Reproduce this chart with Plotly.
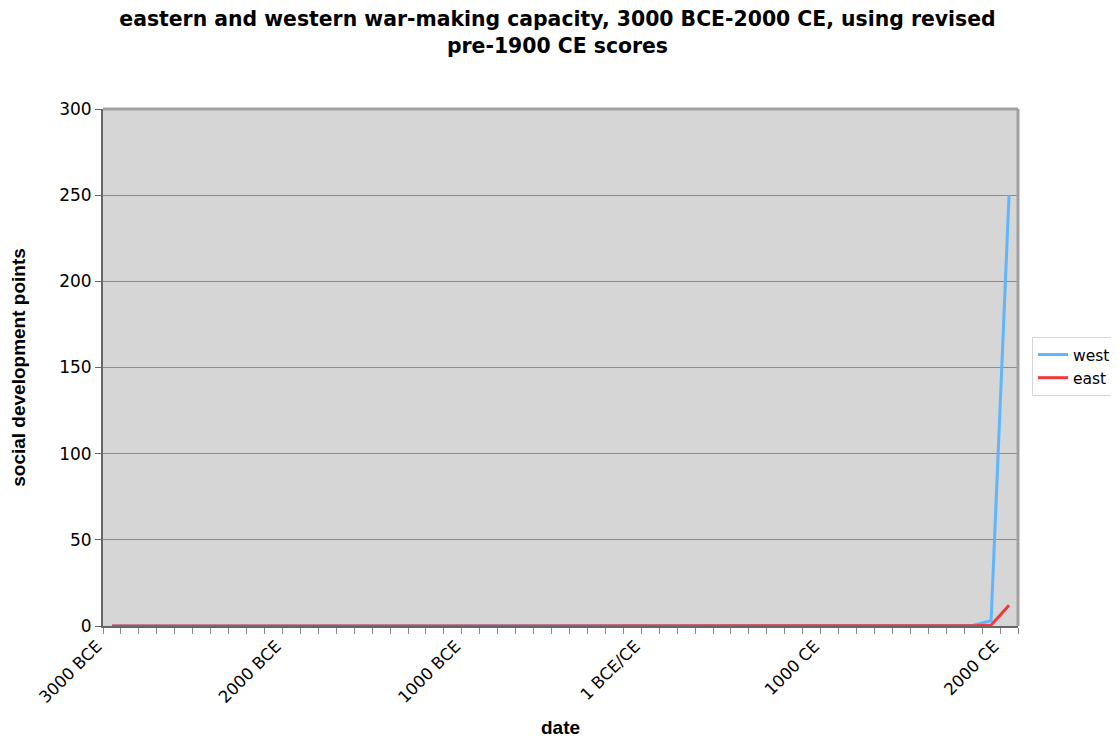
import plotly.graph_objects as go

# years: -3000 .. 2000 in steps of 100 (0 = 1 BCE/CE)
years = list(range(-3000, 2001, 100))
tick_years = [-3000, -2000, -1000, 0, 1000, 2000]
tick_labels = ["3000 BCE", "2000 BCE", "1000 BCE", "1 BCE/CE", "1000 CE", "2000 CE"]

# war-making capacity (points): effectively zero until 1800 CE
west = [0.01, 0.01, 0.01, 0.01, 0.01, 0.01, 0.01, 0.01, 0.01, 0.01,
        0.02, 0.02, 0.02, 0.02, 0.02, 0.02, 0.02, 0.02, 0.02, 0.03,
        0.03, 0.03, 0.04, 0.04, 0.05, 0.06, 0.07, 0.08, 0.09, 0.1,
        0.12, 0.12, 0.11, 0.1, 0.09, 0.08, 0.07, 0.07, 0.08, 0.09,
        0.09, 0.1, 0.1, 0.11, 0.12, 0.13, 0.14, 0.16, 0.5, 3.0,
        250.0]
east = [0.0, 0.0, 0.0, 0.0, 0.0, 0.0, 0.0, 0.0, 0.0, 0.0,
        0.0, 0.0, 0.0, 0.01, 0.01, 0.01, 0.01, 0.01, 0.01, 0.01,
        0.02, 0.02, 0.02, 0.02, 0.03, 0.03, 0.03, 0.04, 0.05, 0.07,
        0.08, 0.08, 0.08, 0.07, 0.07, 0.08, 0.09, 0.09, 0.1, 0.1,
        0.1, 0.11, 0.12, 0.12, 0.12, 0.12, 0.12, 0.12, 0.12, 0.5,
        12.0]

font_family = "DejaVu Sans, Verdana, sans-serif"
bold_family = "Liberation Sans, Arial, sans-serif"

fig = go.Figure()
fig.add_trace(go.Scatter(x=years, y=west, mode="lines", name="west",
                         line=dict(color="#5eb6ff", width=3)))
fig.add_trace(go.Scatter(x=years, y=east, mode="lines", name="east",
                         line=dict(color="#f2383a", width=3)))

step = years[1] - years[0]
boundaries = [years[0] - step / 2 + step * i for i in range(len(years) + 1)]
label_pos = [y - step / 2 for y in tick_years]

fig.update_layout(
    width=1111, height=734,
    paper_bgcolor="white",
    plot_bgcolor="#d6d6d6",
    margin=dict(l=95, r=101, t=101, b=116, autoexpand=False),
    title=dict(
        text="<b>eastern and western war-making capacity, 3000 BCE-2000 CE, using revised<br>pre-1900 CE scores</b>",
        x=549.5 / 1111, xref="container", xanchor="center",
        y=0.975, yref="container", yanchor="top",
        pad=dict(t=0, b=0),
        font=dict(family=font_family, size=20.4, color="black"),
    ),
    font=dict(family=font_family, color="black"),
    showlegend=True,
    legend=dict(
        x=1.0153, xanchor="left", y=0.502, yanchor="middle",
        bgcolor="white", bordercolor="#d4d4d4", borderwidth=1,
        font=dict(family=font_family, size=15.5, color="black"),
        tracegroupgap=0, itemwidth=30,
    ),
    xaxis=dict(
        range=[boundaries[0], boundaries[-1]],
        automargin=False,
        tickmode="array", tickvals=label_pos, ticktext=tick_labels,
        tickangle=-45, ticks="",
        ticklabelshift=-6, ticklabelstandoff=2,
        tickfont=dict(family=font_family, size=16.5, color="black"),
        showgrid=False, zeroline=False,
        showline=True, linecolor="#666666", linewidth=2,
        minor=dict(tickmode="array", tickvals=boundaries, ticks="outside",
                   ticklen=6, tickcolor="#888888", tickwidth=1, showgrid=False),
        title=dict(text="<b>date</b>", font=dict(family=bold_family, size=19, color="black"),
                   standoff=15),
    ),
    yaxis=dict(
        range=[0, 300], tickmode="array", tickvals=[0, 50, 100, 150, 200, 250, 300],
        automargin=False,
        ticks="outside", ticklen=6, tickcolor="#666666",
        tickfont=dict(family=font_family, size=17, color="black"),
        showgrid=True, gridcolor="#8c8c8c", gridwidth=1,
        zeroline=False,
        showline=True, linecolor="#666666", linewidth=2,
        title=dict(text="<b>social development points</b>",
                   font=dict(family=bold_family, size=19, color="black"), standoff=40),
    ),
)

# top and right frame lines in lighter gray
fig.add_shape(type="line", xref="paper", yref="paper", x0=0, x1=1, y0=1, y1=1,
              line=dict(color="#a0a0a0", width=3), layer="above")
fig.add_shape(type="line", xref="paper", yref="paper", x0=1, x1=1, y0=0, y1=1,
              line=dict(color="#a0a0a0", width=3), layer="above")

fig.write_html("out.html")
